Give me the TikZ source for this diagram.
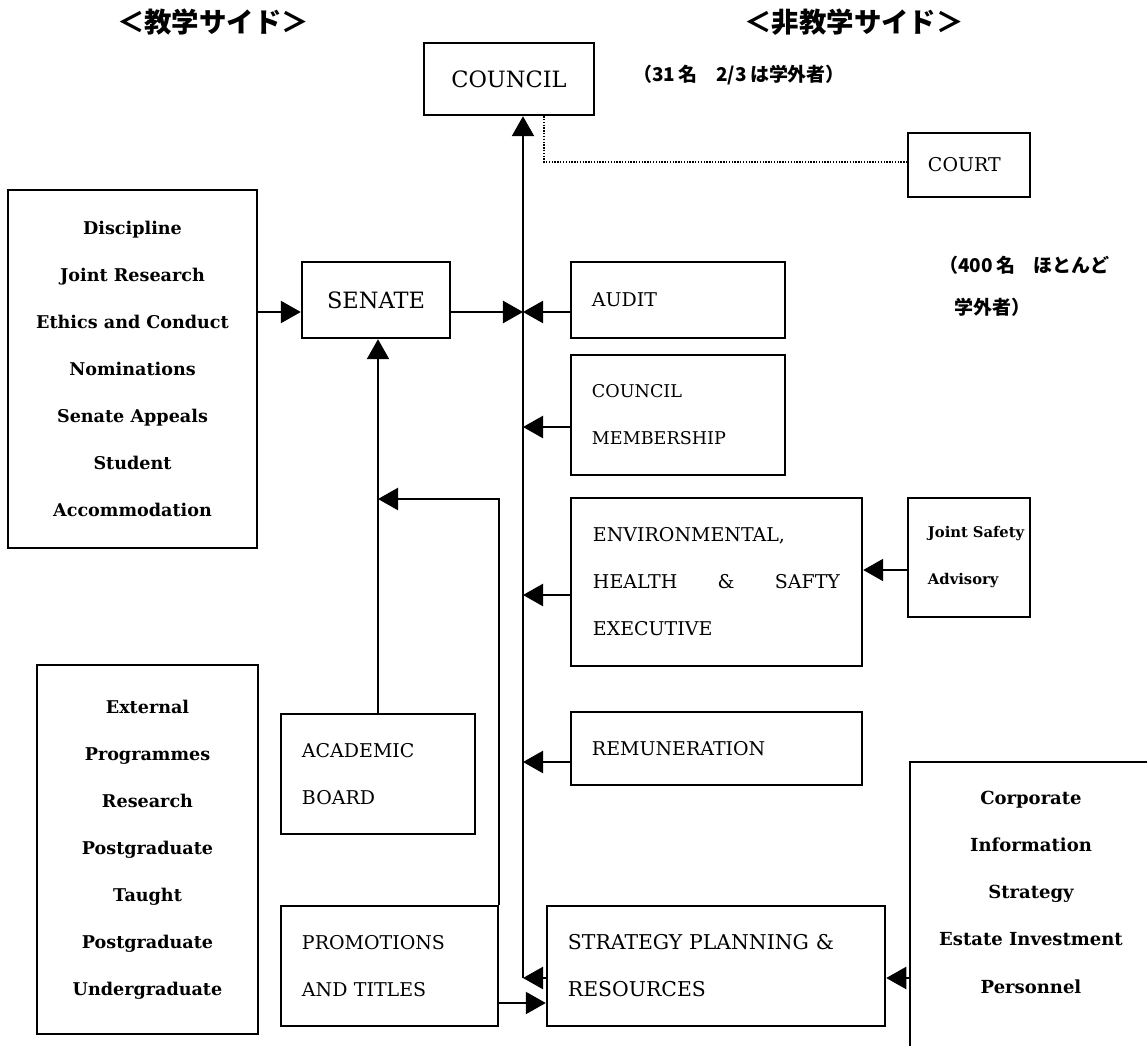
\documentclass[tikz,border=0pt]{standalone}
\usepackage{fontspec}
\setmainfont{DejaVu Serif}
\newfontfamily\jpfont{Noto Sans CJK JP}
\usetikzlibrary{arrows.meta,positioning}

\begin{document}
\begin{tikzpicture}[x=0.025cm, y=-0.025cm, line width=1.7pt,
box/.style={draw, inner sep=0pt, line width=1.7pt},
capsbox/.style={box, align=left, inner xsep=0.525cm, font=\fontsize{13.5}{33.4}\selectfont},
listbox/.style={box, align=center, font=\bfseries\fontsize{12.5}{33.4}\selectfont},
bigbox/.style={box, font=\fontsize{16}{20}\selectfont},
note/.style={font=\jpfont\bfseries\fontsize{13.5}{15}\selectfont, anchor=west, inner sep=0pt},
side/.style={font=\jpfont\bfseries\fontsize{19.5}{22}\selectfont, inner sep=0pt},
feed/.style={-{Triangle[length=0.5cm,width=0.55cm]}, line width=1.7pt}]
\useasboundingbox (0,0) rectangle (1147,1046);

% headings and notes
\node[side] (academicside) at (213,22) {＜教学サイド＞};
\node[side] (otherside) at (854,22) {＜非教学サイド＞};
\node[note] (councilnote) at (632,75) {（31\,名　2/3\,は学外者）};
\node[note] (courtnote) at (938,265) {（400\,名　ほとんど};
\node[note] (courtnote2) at (953,307) {学外者）};

% top
\node[bigbox, minimum width=4.25cm, minimum height=1.8cm] (council) at (509,79) {COUNCIL};
\node[capsbox, minimum width=3.05cm, minimum height=1.6cm, inner xsep=0.5cm, text width=2.05cm] (court) at (969,165) {COURT};

% academic side
\node[listbox, minimum width=6.225cm, minimum height=8.95cm] (discipline) at (132.5,369)
  {Discipline\\Joint Research\\Ethics and Conduct\\Nominations\\Senate Appeals\\Student\\Accommodation};
\node[bigbox, minimum width=3.7cm, minimum height=1.9cm] (senate) at (376,300) {SENATE};
\node[listbox, minimum width=5.525cm, minimum height=9.225cm] (external) at (147.5,849.5)
  {External\\Programmes\\Research\\Postgraduate\\Taught\\Postgraduate\\Undergraduate};
\node[capsbox, minimum width=4.85cm, minimum height=3cm, text width=3.8cm] (academic) at (378,774) {ACADEMIC\\BOARD};
\node[capsbox, minimum width=5.425cm, minimum height=3cm, text width=4.375cm] (prom) at (389.5,966) {PROMOTIONS\\AND TITLES};

% non-academic side
\node[capsbox, minimum width=5.35cm, minimum height=1.9cm, text width=4.3cm] (audit) at (678,300) {AUDIT};
\node[capsbox, minimum width=5.35cm, minimum height=3cm, text width=4.3cm, font=\fontsize{12.5}{33.4}\selectfont] (membership) at (678,415) {COUNCIL\\MEMBERSHIP};
\node[capsbox, minimum width=7.275cm, minimum height=4.2cm, inner xsep=0.55cm, text width=6.175cm] (ehs) at (716.5,582)
  {ENVIRONMENTAL,\\HEALTH\hfill\&\hfill SAFTY\\EXECUTIVE};
\node[capsbox, minimum width=3.05cm, minimum height=2.975cm, inner xsep=0.5cm, text width=2.05cm, font=\bfseries\fontsize{10.5}{33.4}\selectfont] (joint) at (969,557.5)
  {Joint~Safety\\Advisory};
\node[capsbox, minimum width=7.275cm, minimum height=1.825cm, text width=6.225cm] (remuneration) at (716.5,748.5) {REMUNERATION};
\node[capsbox, minimum width=8.45cm, minimum height=3cm, text width=7.4cm, font=\fontsize{14.5}{33.4}\selectfont] (spr) at (716,966) {STRATEGY PLANNING \&\\RESOURCES};
\coordinate (corpbox) at (910,762);
\node[align=center, font=\bfseries\fontsize{12.8}{33.6}\selectfont] (corporate) at (1031,892)
  {Corporate\\Information\\Strategy\\Estate Investment\\Personnel};
\draw (1147,762) -- (corpbox) -- (910,1046);

% connectors
\coordinate (spine) at (523,978);
\draw[feed] (spine) -- (spine |- council.south);
\draw[densely dotted, line width=1pt] (council.south -| 544,0) -- (544,162) -- (court.west |- 0,162);
\draw[feed] (discipline.east |- 0,312) -- (senate.west |- 0,312);
\draw[feed] (senate.east |- 0,312) -- (spine |- 0,312);
\draw[feed] (audit.west |- 0,312) -- (spine |- 0,312);
\draw[feed] (membership.west |- 0,427) -- (spine |- 0,427);
\draw[feed] (ehs.west |- 0,595) -- (spine |- 0,595);
\draw[feed] (joint.west |- 0,570) -- (ehs.east |- 0,570);
\draw[feed] (remuneration.west |- 0,762) -- (spine |- 0,762);
\draw[feed] (spr.west |- spine) -- (spine);
\draw[feed] (corpbox |- spine) -- (spr.east |- spine);
\draw[feed] (academic.north) -- (academic.north |- senate.south);
\draw[feed] (prom.north east) -- (prom.north east |- 0,499) -- (academic.north |- 0,499);
\draw[feed] (prom.east |- 0,1003) -- (spr.west |- 0,1003);
\end{tikzpicture}
\end{document}
